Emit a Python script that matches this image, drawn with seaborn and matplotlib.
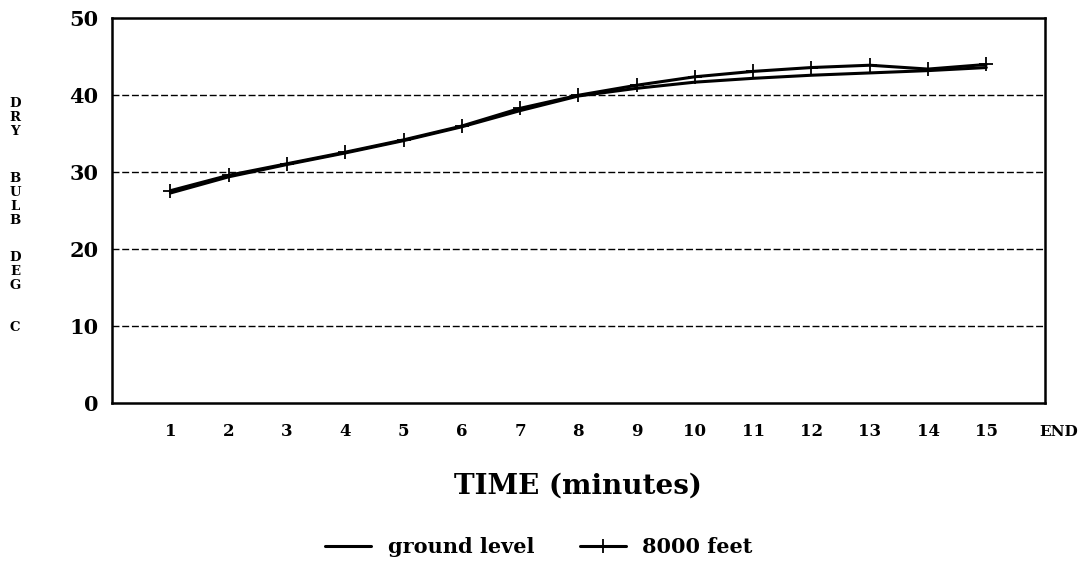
import pandas as pd
import matplotlib
matplotlib.use("Agg")
import matplotlib.pyplot as plt
import seaborn as sns

# Data
minutes = [1, 2, 3, 4, 5, 6, 7, 8, 9, 10, 11, 12, 13, 14, 15]
ground_level = [27.3, 29.4, 31.0, 32.5, 34.1, 35.9, 38.0, 39.9, 40.9, 41.7, 42.2, 42.6, 42.9, 43.2, 43.6]
feet_8000 = [27.6, 29.6, 31.1, 32.6, 34.2, 36.0, 38.3, 40.0, 41.3, 42.4, 43.1, 43.6, 43.9, 43.4, 44.0]
x_ticks = [1, 2, 3, 4, 5, 6, 7, 8, 9, 10, 11, 12, 13, 14, 15, 16]
x_tick_labels = ["1", "2", "3", "4", "5", "6", "7", "8", "9", "10", "11", "12", "13", "14", "15", "END"]
y_ticks = [0, 10, 20, 30, 40, 50]

df = pd.DataFrame({"minute": minutes, "ground": ground_level, "high": feet_8000})

sns.set_style("white")
plt.rcParams["font.family"] = ["DejaVu Serif"]
plt.rcParams.update({"text.color": "black", "axes.labelcolor": "black",
                     "xtick.color": "black", "ytick.color": "black"})

fig = plt.figure(figsize=(10.78, 5.71), dpi=100)
ax = fig.add_axes([0.104, 0.294, 0.865, 0.674])

for y in y_ticks[1:-1]:
    ax.axhline(y, color="black", linestyle=(0, (5, 2)), linewidth=1.0, zorder=1)

sns.lineplot(data=df, x="minute", y="ground", ax=ax, color="black", linewidth=2.2,
             label="ground level", zorder=3)
sns.lineplot(data=df, x="minute", y="high", ax=ax, color="black", linewidth=2.2,
             marker="+", markersize=10, markeredgewidth=1.3, markeredgecolor="black",
             label="8000 feet", zorder=3)

ax.set_xlim(0, 16)
ax.set_ylim(0, 50)
ax.set_xticks(x_ticks)
ax.set_xticklabels(x_tick_labels[:-1] + [""])
ax.set_yticks(y_ticks)
for lbl in ax.get_xticklabels():
    lbl.set_fontweight("bold")
    lbl.set_fontsize(12)
for lbl in ax.get_yticklabels():
    lbl.set_fontweight("bold")
    lbl.set_fontsize(15)
# last tick label sits a little right of its tick
ax.annotate(x_tick_labels[-1], xy=(x_ticks[-1], 0), xycoords=("data", "axes fraction"),
            xytext=(-4, -15.5), textcoords="offset points", ha="left", va="top",
            fontsize=11, fontweight="bold")
ax.tick_params(axis="both", direction="in", length=6, width=1.2, color="black")
ax.tick_params(axis="x", pad=14)
ax.tick_params(axis="y", pad=10)

for side in ax.spines.values():
    side.set_color("black")
    side.set_linewidth(1.8)

ax.set_xlabel("TIME (minutes)", fontsize=20, fontweight="bold", labelpad=24)
ax.set_ylabel("")

# stacked vertical y label
words = [("D\nR\nY", 0.795), ("B\nU\nL\nB", 0.650), ("D\nE\nG", 0.524), ("C", 0.427)]
for word, ypos in words:
    fig.text(0.014, ypos, word, fontsize=9.5, fontweight="bold", ha="center", va="center",
             linespacing=1.1)

handles, labels = ax.get_legend_handles_labels()
ax.legend_.remove()
fig.legend(handles, labels, loc="center", bbox_to_anchor=(0.5, 0.042), ncol=2, frameon=False,
           prop={"weight": "bold", "size": 15}, handlelength=2.2, columnspacing=2.2)

fig.savefig("out.png", dpi=100)
